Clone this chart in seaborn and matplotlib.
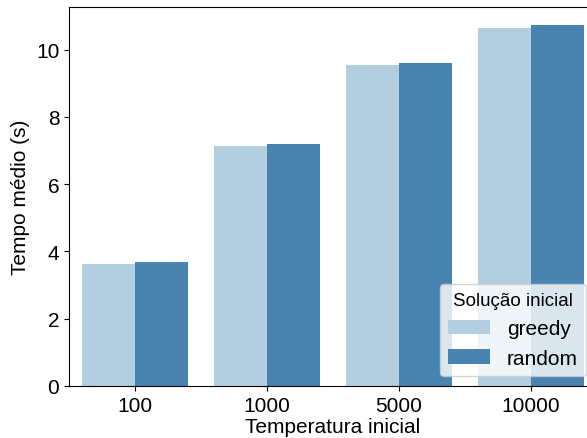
import matplotlib
matplotlib.use("Agg")
import matplotlib.pyplot as plt
import seaborn as sns
import pandas as pd

# Mean runtime per initial temperature and initial-solution strategy
temperaturas = ["100", "1000", "5000", "10000"]
greedy = [3.62, 7.13, 9.55, 10.65]
random_sol = [3.68, 7.19, 9.60, 10.73]

df = pd.DataFrame({
    "Temperatura inicial": temperaturas * 2,
    "Tempo médio (s)": greedy + random_sol,
    "Solução inicial": ["greedy"] * 4 + ["random"] * 4,
})

plt.rcParams["font.family"] = ["Liberation Sans", "DejaVu Sans"]

fig = plt.figure(figsize=(5.87, 4.39), dpi=100)
ax = fig.add_axes([69 / 587, 52 / 439, 528 / 587, 379 / 439])

sns.barplot(
    data=df, x="Temperatura inicial", y="Tempo médio (s)",
    hue="Solução inicial", palette="Blues", ax=ax,
    order=temperaturas, hue_order=["greedy", "random"],
    linewidth=0,
)

ax.set_xlabel("Temperatura inicial", fontsize=15, labelpad=2)
ax.set_ylabel("Tempo médio (s)", fontsize=15)
ax.tick_params(axis="both", labelsize=15)

leg = ax.legend(title="Solução inicial", loc="lower right",
                bbox_to_anchor=(586 / 587, 62 / 439), bbox_transform=fig.transFigure,
                borderaxespad=0.0, fontsize=15, title_fontsize=13.5)
leg.get_frame().set_alpha(0.8)

fig.savefig("out.png", dpi=100)
